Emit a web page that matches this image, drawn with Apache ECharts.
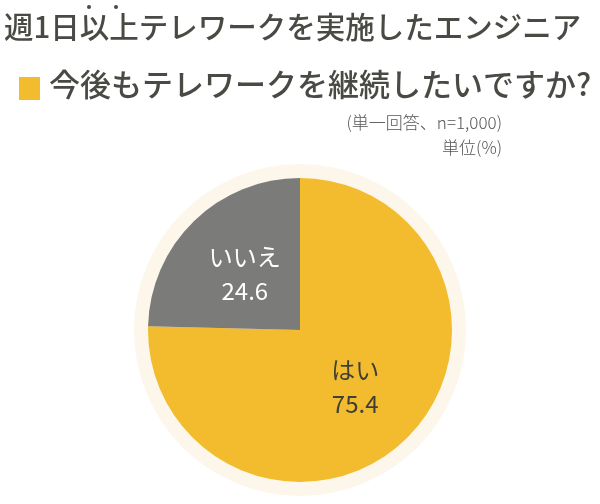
<!DOCTYPE html><html><head><meta charset="utf-8"><script src="https://cdn.jsdelivr.net/npm/echarts@6/dist/echarts.min.js"></script>
<style>html,body{margin:0;background:#fff}#c{width:600px;height:504px}</style></head><body><div id="c"></div><script>
const categories=['はい','いいえ'];
const values=[75.4,24.6];
const title='週1日以上テレワークを実施したエンジニア';
const subtitle='今後もテレワークを継続したいですか?';
const note1='(単一回答、n=1,000)';
const note2='単位(%)';
const colors=['#F3BC2E','#7B7B7A'];
const labelColors=['#3f3f3a','#ffffff'];
const ff='"Noto Sans CJK JP",sans-serif';
const chart=echarts.init(document.getElementById('c'));
chart.setOption({
 animation:false,
 graphic:[
  {type:'text',left:4,top:12,style:{text:title,font:'500 29.5px '+ff,fill:'#4a4a45'}},
  {type:'circle',shape:{cx:89,cy:7,r:2},style:{fill:'#4a4a45'}},
  {type:'circle',shape:{cx:116,cy:7,r:2},style:{fill:'#4a4a45'}},
  {type:'rect',shape:{x:19,y:77,width:21,height:23},style:{fill:'#F3BC2E'}},
  {type:'text',left:49,top:69,style:{text:subtitle,font:'500 31px '+ff,fill:'#4a4a45'}},
  {type:'text',right:98,top:114,style:{text:note1,font:'300 17px '+ff,fill:'#555'}},
  {type:'text',right:98,top:139,style:{text:note2,font:'300 17px '+ff,fill:'#555'}}
 ],
 series:[
  {type:'pie',silent:true,center:[300,330],radius:[0,166],data:[{value:1}],itemStyle:{color:'#FDF6EA'},label:{show:false},labelLine:{show:false}},
  {type:'pie',center:[300,330],radius:[0,152],startAngle:90,clockwise:true,
   data:categories.map((c,i)=>({name:c,value:values[i],itemStyle:{color:colors[i]},label:{color:labelColors[i]}})),
   label:{position:'inner',formatter:p=>p.name+'\n'+p.value.toFixed(1),fontSize:24,lineHeight:34,fontFamily:ff},
   labelLine:{show:false}}
 ]
});
</script></body></html>
